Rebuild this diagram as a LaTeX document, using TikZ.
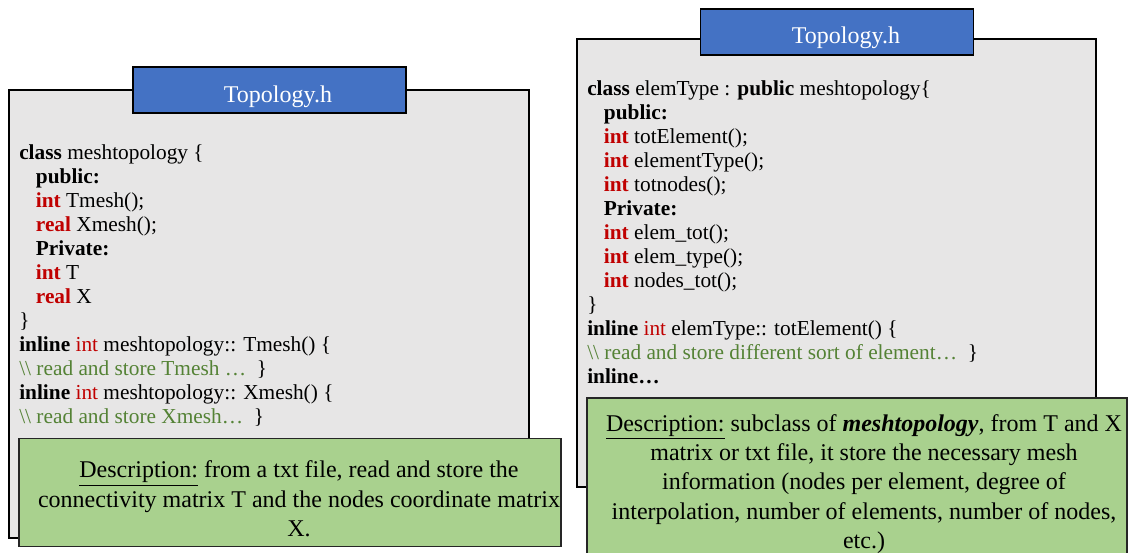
\documentclass[tikz,border=0pt]{standalone}
\usepackage{fontspec}
\setmainfont{Liberation Serif}
\usepackage{xcolor}
\usepackage{tikz}
\usetikzlibrary{shapes,positioning}

\definecolor{boxgray}{HTML}{E7E6E6}
\definecolor{titleblue}{HTML}{4472C4}
\definecolor{descgreen}{HTML}{A9D18E}
\definecolor{kwred}{HTML}{C00000}
\definecolor{cmgreen}{HTML}{548235}

\newcommand{\kw}[1]{\textcolor{kwred}{\textbf{#1}}}
\newcommand{\kwt}[1]{\textcolor{kwred}{#1}}
\newcommand{\cmt}[1]{\textcolor{cmgreen}{#1}}
\newcommand{\ind}{\hspace*{12.5pt}}

\tikzset{
	codebox/.style={draw=black, line width=1.1pt, fill=boxgray, inner sep=0pt},
	titlebox/.style={draw=black, line width=1.1pt, fill=titleblue, inner sep=0pt, minimum width=204.5pt, minimum height=34.5pt},
	titletext/.style={text=white, inner sep=0pt, font=\fontsize{18}{20}\selectfont},
	codetext/.style={align=left, anchor=north west, inner sep=0pt, font=\fontsize{16}{18}\selectfont},
	descbox/.style={draw=black!85, line width=1.1pt, fill=descgreen, inner sep=0pt},
	desctext/.style={align=center, inner sep=0pt, font=\fontsize{18}{22}\selectfont},
}

\begin{document}
\begin{tikzpicture}[x=0.75pt, y=-0.75pt]
		\useasboundingbox (0,0) rectangle (1135,553);

		% base class
		\node[codebox, minimum width=390pt, minimum height=336pt] (meshbox) at (269,314) {};
		\node[titlebox] (meshtitle) at (269.5,90) {};
		\node[titletext] (meshtitlelabel) at (278,97) {Topology.h};
		\node[codetext] (meshcode) at (19,144) {
			\textbf{class} meshtopology \{\\
			\ind\textbf{public:}\\
			\ind\kw{int} Tmesh();\\
			\ind\kw{real} Xmesh();\\
			\ind\textbf{Private:}\\
			\ind\kw{int} T\\
			\ind\kw{real} X\\
			\}\\
			\textbf{inline} \kwt{int} meshtopology:: Tmesh() \{\\
			\cmt{\textbackslash\textbackslash{} read and store Tmesh …}\ \ \}\\
			\textbf{inline} \kwt{int} meshtopology:: Xmesh() \{\\
			\cmt{\textbackslash\textbackslash{} read and store Xmesh…}\ \ \}};
		\node[descbox, minimum width=406.5pt, minimum height=81pt] (meshdesc) at (290,492.5) {};
		\node[desctext] (meshdesclabel) at (299,499) {
			\underline{Description:} from a txt file, read and store the\\
			connectivity matrix T and the nodes coordinate matrix\\
			X.};

		% derived class
		\node[codebox, minimum width=389pt, minimum height=336pt] (elembox) at (836.5,263) {};
		\node[titlebox] (elemtitle) at (837,32) {};
		\node[titletext] (elemtitlelabel) at (846,38) {Topology.h};
		\node[codetext] (elemcode) at (587,80) {
			\textbf{class} elemType : \textbf{public} meshtopology\{\\
			\ind\textbf{public:}\\
			\ind\kw{int} totElement();\\
			\ind\kw{int} elementType();\\
			\ind\kw{int} totnodes();\\
			\ind\textbf{Private:}\\
			\ind\kw{int} elem\_tot();\\
			\ind\kw{int} elem\_type();\\
			\ind\kw{int} nodes\_tot();\\
			\}\\
			\textbf{inline} \kwt{int} elemType:: totElement() \{\\
			\cmt{\textbackslash\textbackslash{} read and store different sort of element…}\ \ \}\\
			\textbf{inline…}};
		\node[descbox, minimum width=405pt, minimum height=126pt] (elemdesc) at (857,482) {};
		\node[desctext] (elemdesclabel) at (864,484) {
			\underline{Description:} subclass of \textbf{\textit{meshtopology}}, from T and X\\
			matrix or txt file, it store the necessary mesh\\
			information (nodes per element, degree of\\
			interpolation, number of elements, number of nodes,\\
			etc.)};
\end{tikzpicture}
\end{document}
